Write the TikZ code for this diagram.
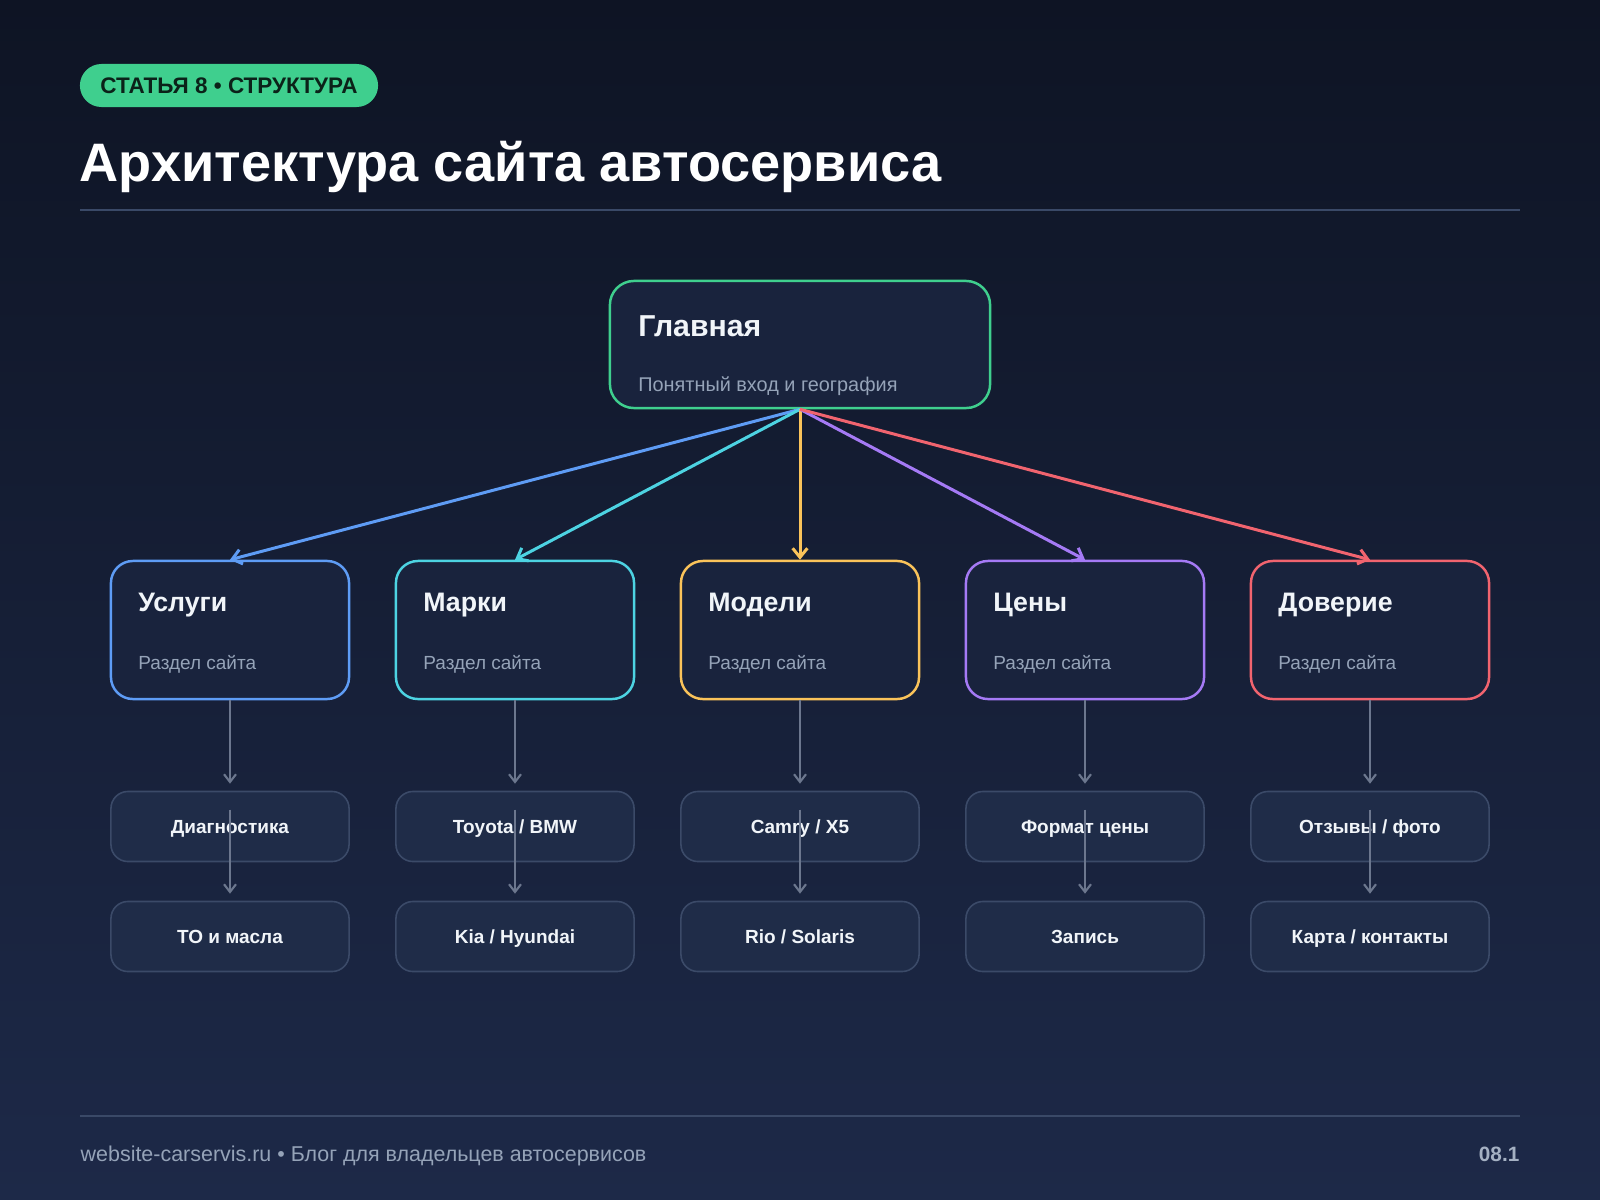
\documentclass[tikz,border=0pt]{standalone}
\usepackage{fontspec}
\setmainfont{Liberation Sans}
\usetikzlibrary{calc,arrows.meta}

\definecolor{bgtop}{HTML}{0E1424}
\definecolor{bgbot}{HTML}{1D2948}
\definecolor{rulecol}{HTML}{3A4967}
\definecolor{cardfill}{HTML}{19233D}
\definecolor{leaffill}{HTML}{1F2C48}
\definecolor{leafline}{HTML}{3B4A68}
\definecolor{mutedtxt}{HTML}{95A3B8}
\definecolor{lighttxt}{HTML}{F1F5F9}
\definecolor{cgreen}{HTML}{3FCF8E}
\definecolor{cblue}{HTML}{5E9CF5}
\definecolor{ccyan}{HTML}{4DD3E2}
\definecolor{cyellow}{HTML}{FAC35A}
\definecolor{cpurple}{HTML}{A57AF5}
\definecolor{cred}{HTML}{F1646F}
\definecolor{pilltxt}{HTML}{0B2219}

\begin{document}
\begin{tikzpicture}[x=0.01cm, y=-0.01cm,
    pill/.style={fill=cgreen, rounded corners=0.215cm, minimum width=2.98cm,
      minimum height=0.43cm, inner sep=0, text=pilltxt,
      font=\fontsize{6.4}{7.5}\selectfont\bfseries},
    homebox/.style={draw=cgreen, line width=0.7pt, fill=cardfill,
      rounded corners=0.24cm, minimum width=3.8cm, minimum height=1.27cm},
    secbox/.style={draw=#1, line width=0.7pt, fill=cardfill,
      rounded corners=0.22cm, minimum width=2.38cm, minimum height=1.38cm},
    leafbox/.style={draw=leafline, line width=0.45pt, fill=leaffill,
      rounded corners=0.17cm, minimum width=2.38cm, minimum height=0.70cm,
      text height=3.9pt, text depth=0pt,
      text=lighttxt, font=\fontsize{5.4}{6.5}\selectfont\bfseries},
    boxtitle/.style={anchor=base west, inner sep=0, text=lighttxt,
      font=\fontsize{#1}{10}\selectfont\bfseries},
    boxsub/.style={anchor=base west, inner sep=0, text=mutedtxt,
      font=\fontsize{#1}{6.5}\selectfont},
    link/.style={draw=#1, line width=0.85pt,
      -{Straight Barb[length=2.6pt, width=4.2pt, line width=0.85pt]}},
    down/.style={draw=leafline!75!white, line width=0.6pt,
      -{Straight Barb[length=2.2pt, width=3.4pt, line width=0.6pt]}}]

  % Background
  \useasboundingbox (0,0) rectangle (1600,1200);
  \shade[top color=bgtop, bottom color=bgbot] (0,0) rectangle (1600,1200);

  % Header
  \node[pill] (tag) at (229,85.5) {СТАТЬЯ 8 • СТРУКТУРА};
  \node[anchor=base west, inner sep=0, text=white,
    font=\fontsize{15.4}{18}\selectfont\bfseries] (title) at (79,181.5)
    {Архитектура сайта автосервиса};
  \draw[rulecol, line width=0.6pt] (80,210) -- (1520,210);

  % Home page
  \node[homebox] (home) at (800,344.5) {};
  \node[boxtitle=8.6] (hometitle) at ($(home.north west)+(29,57)$) {Главная};
  \node[boxsub=5.65] (homesub) at ($(home.north west)+(29,112)$) {Понятный вход и география};

  % Sections
  \node[secbox=cblue]   (s1) at (230,630) {};
  \node[secbox=ccyan]   (s2) at (515,630) {};
  \node[secbox=cyellow] (s3) at (800,630) {};
  \node[secbox=cpurple] (s4) at (1085,630) {};
  \node[secbox=cred]    (s5) at (1370,630) {};

  \node[boxtitle=7.6] at ($(s1.north west)+(28,52)$) {Услуги};
  \node[boxtitle=7.6] at ($(s2.north west)+(28,52)$) {Марки};
  \node[boxtitle=7.6] at ($(s3.north west)+(28,52)$) {Модели};
  \node[boxtitle=7.6] at ($(s4.north west)+(28,52)$) {Цены};
  \node[boxtitle=7.6] at ($(s5.north west)+(28,52)$) {Доверие};

  \node[boxsub=5.4] at ($(s1.north west)+(28,110)$) {Раздел сайта};
  \node[boxsub=5.4] at ($(s2.north west)+(28,110)$) {Раздел сайта};
  \node[boxsub=5.4] at ($(s3.north west)+(28,110)$) {Раздел сайта};
  \node[boxsub=5.4] at ($(s4.north west)+(28,110)$) {Раздел сайта};
  \node[boxsub=5.4] at ($(s5.north west)+(28,110)$) {Раздел сайта};

  % Pages
  \node[leafbox] (p1a) at (230,826.5) {Диагностика};
  \node[leafbox] (p1b) at (230,936.5) {ТО и масла};
  \node[leafbox] (p2a) at (515,826.5) {Toyota / BMW};
  \node[leafbox] (p2b) at (515,936.5) {Kia / Hyundai};
  \node[leafbox] (p3a) at (800,826.5) {Camry / X5};
  \node[leafbox] (p3b) at (800,936.5) {Rio / Solaris};
  \node[leafbox] (p4a) at (1085,826.5) {Формат цены};
  \node[leafbox] (p4b) at (1085,936.5) {Запись};
  \node[leafbox] (p5a) at (1370,826.5) {Отзывы / фото};
  \node[leafbox] (p5b) at (1370,936.5) {Карта / контакты};

  % Home -> sections
  \draw[link=cblue]   (home.south) -- (s1.north);
  \draw[link=ccyan]   (home.south) -- (s2.north);
  \draw[link=cyellow] (home.south) -- (s3.north);
  \draw[link=cpurple] (home.south) -- (s4.north);
  \draw[link=cred]    (home.south) -- (s5.north);

  % Sections -> pages
  \draw[down] (s1.south) -- ($(p1a.north)+(0,-7)$);
  \draw[down] (s2.south) -- ($(p2a.north)+(0,-7)$);
  \draw[down] (s3.south) -- ($(p3a.north)+(0,-7)$);
  \draw[down] (s4.south) -- ($(p4a.north)+(0,-7)$);
  \draw[down] (s5.south) -- ($(p5a.north)+(0,-7)$);

  \draw[down] ($(p1a.north)+(0,19)$) -- ($(p1b.north)+(0,-7)$);
  \draw[down] ($(p2a.north)+(0,19)$) -- ($(p2b.north)+(0,-7)$);
  \draw[down] ($(p3a.north)+(0,19)$) -- ($(p3b.north)+(0,-7)$);
  \draw[down] ($(p4a.north)+(0,19)$) -- ($(p4b.north)+(0,-7)$);
  \draw[down] ($(p5a.north)+(0,19)$) -- ($(p5b.north)+(0,-7)$);

  % Footer
  \draw[rulecol, line width=0.6pt] (80,1116) -- (1520,1116);
  \node[anchor=base west, inner sep=0, text=mutedtxt,
    font=\fontsize{6.1}{7}\selectfont] (site) at (80,1161)
    {website-carservis.ru • Блог для владельцев автосервисов};
  \node[anchor=base east, inner sep=0, text=mutedtxt!85!white,
    font=\fontsize{5.9}{7}\selectfont\bfseries] (pageno) at (1520,1161) {08.1};
\end{tikzpicture}
\end{document}
